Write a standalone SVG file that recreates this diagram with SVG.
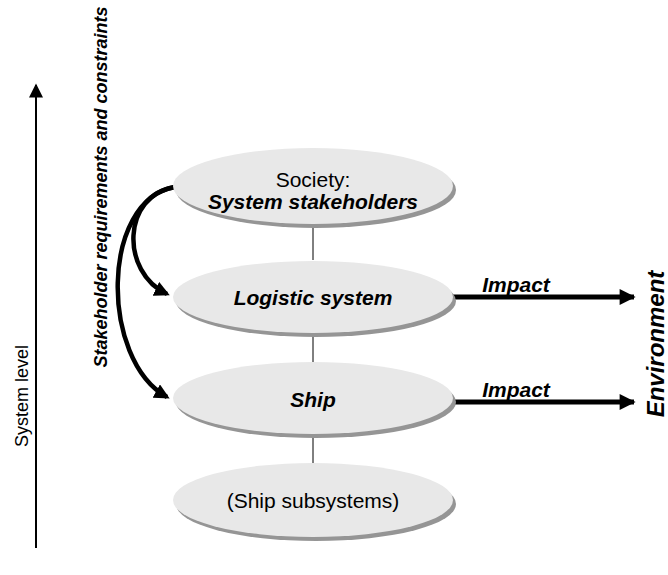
<svg xmlns="http://www.w3.org/2000/svg" width="668" height="575" viewBox="0 0 668 575">
  <style>
    .node-shadow { fill: #959595; }
    .node-body { fill: #e8e8e8; }
    .label { font-family: "Liberation Sans", Arial, sans-serif; font-size: 21px; fill: #000; text-anchor: middle; }
    .bi { font-weight: bold; font-style: italic; }
    .link { stroke: #000; stroke-width: 1; fill: none; }
    .curve { stroke: #000; stroke-width: 4.5; fill: none; }
    .impact { stroke: #000; stroke-width: 5; fill: none; }
  </style>
  <defs>
    <marker id="headCurve" viewBox="0 0 10 10" refX="8" refY="5" markerWidth="3.4" markerHeight="3.4" orient="auto" markerUnits="strokeWidth">
      <path d="M0,0 L10,5 L0,10 Z" fill="#000"/>
    </marker>
    <marker id="headImpact" viewBox="0 0 10 10" refX="9" refY="5" markerWidth="3.4" markerHeight="3.2" orient="auto" markerUnits="strokeWidth">
      <path d="M0,0 L10,5 L0,10 Z" fill="#000"/>
    </marker>
    <marker id="headAxis" viewBox="0 0 10 10" refX="9" refY="5" markerWidth="8" markerHeight="7" orient="auto" markerUnits="strokeWidth">
      <path d="M0,0 L10,5 L0,10 Z" fill="#000"/>
    </marker>
  </defs>

  <!-- system level axis -->
  <g id="axis">
    <line x1="36" y1="548" x2="36" y2="85" stroke="#000" stroke-width="2" marker-end="url(#headAxis)"/>
    <text class="label" style="font-size:18px" transform="translate(28,396) rotate(-90)">System level</text>
  </g>

  <!-- requirements label -->
  <g id="requirements-label">
    <text class="label bi" style="font-size:18px" transform="translate(107,187) rotate(-90)">Stakeholder requirements and constraints</text>
  </g>

  <!-- connectors -->
  <g id="connectors">
    <line class="link" x1="313" y1="224" x2="313" y2="260"/>
    <line class="link" x1="313" y1="333" x2="313" y2="362"/>
    <line class="link" x1="313" y1="435" x2="313" y2="464"/>
    <path class="curve" d="M175,187 C122,195 120,272 167,294" marker-end="url(#headCurve)"/>
    <path class="curve" d="M175,187 C100,200 100,360 167,397" marker-end="url(#headCurve)"/>
    <line class="impact" x1="450" y1="297" x2="634" y2="297" marker-end="url(#headImpact)"/>
    <line class="impact" x1="450" y1="402" x2="634" y2="402" marker-end="url(#headImpact)"/>
  </g>

  <!-- nodes -->
  <g id="society">
    <ellipse class="node-shadow" cx="316" cy="190" rx="140" ry="38"/>
    <ellipse class="node-body" cx="313" cy="186" rx="140" ry="38"/>
    <text class="label" x="313" y="187">Society:</text>
    <text class="label bi" x="313" y="209">System stakeholders</text>
  </g>
  <g id="logistic-system">
    <ellipse class="node-shadow" cx="316" cy="301" rx="140" ry="36"/>
    <ellipse class="node-body" cx="313" cy="297" rx="140" ry="36"/>
    <text class="label bi" x="313" y="305">Logistic system</text>
  </g>
  <g id="ship">
    <ellipse class="node-shadow" cx="316" cy="402" rx="140" ry="36"/>
    <ellipse class="node-body" cx="313" cy="398" rx="140" ry="36"/>
    <text class="label bi" x="313" y="407">Ship</text>
  </g>
  <g id="ship-subsystems">
    <ellipse class="node-shadow" cx="316" cy="504" rx="140" ry="37"/>
    <ellipse class="node-body" cx="313" cy="500" rx="140" ry="37"/>
    <text class="label" x="313" y="508">(Ship subsystems)</text>
  </g>

  <!-- impact labels -->
  <g id="impact-labels">
    <text class="label bi" x="516" y="292">Impact</text>
    <text class="label bi" x="516" y="397">Impact</text>
  </g>

  <!-- environment -->
  <g id="environment">
    <text class="label bi" style="font-size:24px" transform="translate(664,344) rotate(-90)">Environment</text>
  </g>
</svg>
